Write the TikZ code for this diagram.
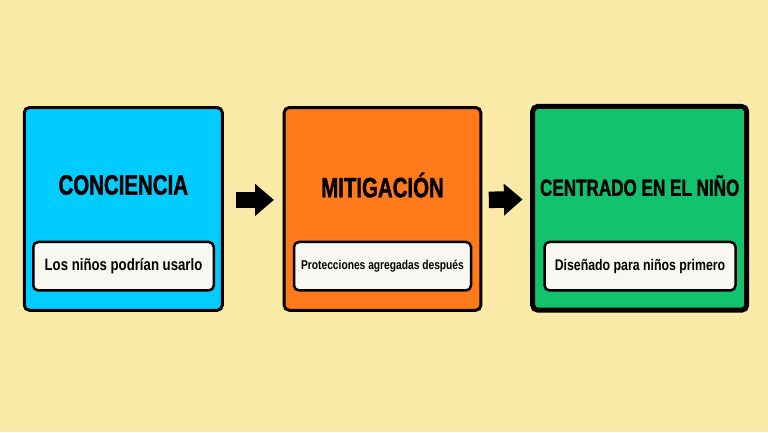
\documentclass[tikz,border=0pt]{standalone}
\usepackage{fontspec}
\setmainfont{Liberation Sans}
\newfontfamily\titlefont{Liberation Sans}[FakeStretch=0.73,FakeBold=1.3]
\newfontfamily\subfont{Liberation Sans}[FakeStretch=0.8]
\usetikzlibrary{arrows.meta}
\definecolor{bgcol}{RGB}{250,234,168}
\definecolor{cyanbox}{RGB}{0,204,255}
\definecolor{orangebox}{RGB}{255,122,26}
\definecolor{greenbox}{RGB}{18,194,108}
\definecolor{notecol}{RGB}{248,247,242}
\tikzset{
  stage/.style={draw=black, line width=3pt, rounded corners=5pt, inner sep=0pt},
  note/.style={draw=black, line width=2.5pt, fill=notecol, rounded corners=5pt, inner sep=0pt, minimum height=48.5pt, font=\subfont\bfseries},
  ttl/.style={font=\titlefont\bfseries, inner sep=0pt},
  flow/.style={line width=16.5pt, -{Triangle[length=18.6pt,width=32pt,line width=0pt]}}
}
\begin{document}
\begin{tikzpicture}[x=1pt,y=-1pt]
\fill[bgcol] (0,0) rectangle (768,432);
\useasboundingbox (0,0) rectangle (768,432);
\node[stage, fill=cyanbox, minimum width=198pt, minimum height=202.7pt] (b1) at (123.3,208.9) {};
\node[stage, fill=orangebox, minimum width=196.6pt, minimum height=202.7pt] (b2) at (382.5,208.9) {};
\node[stage, fill=greenbox, line width=5pt, minimum width=214pt, minimum height=203.7pt] (b3) at (639.7,208.3) {};
\node[ttl, font=\titlefont\bfseries\fontsize{28}{30}\selectfont] (t1) at (123.3,185) {CONCIENCIA};
\node[ttl, font=\titlefont\bfseries\fontsize{28}{30}\selectfont] (t2) at (382.5,185) {MITIGACIÓN};
\node[ttl, font=\titlefont\bfseries\fontsize{23.4}{26}\selectfont] (t3) at (639.7,185.5) {CENTRADO EN EL NIÑO};
\node[note, minimum width=180.5pt, font=\subfont\bfseries\fontsize{16.5}{18}\selectfont] (n1) at (123.5,266.2) {Los niños podrían usarlo};
\node[note, minimum width=177pt, font=\subfont\bfseries\fontsize{12.8}{15}\selectfont] (n2) at (382.5,266.2) {Protecciones agregadas después};
\node[note, minimum width=191pt, font=\subfont\bfseries\fontsize{15.4}{17}\selectfont] (n3) at (640,266.2) {Diseñado para niños primero};
\draw[flow, shorten <=12.4pt, shorten >=8.9pt] ([yshift=9pt]b1.east) -- ([yshift=9pt]b2.west);
\draw[flow, shorten <=6.5pt, shorten >=7.7pt] ([yshift=9pt]b2.east) -- ([yshift=9pt]b3.west);
\end{tikzpicture}
\end{document}
